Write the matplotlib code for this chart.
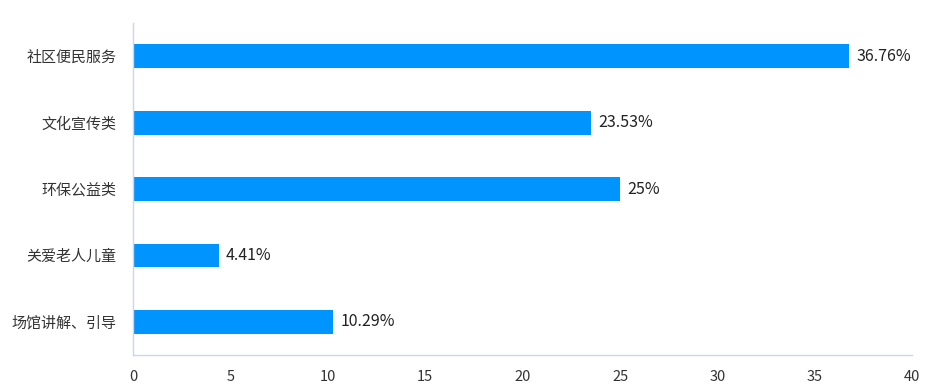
import matplotlib
matplotlib.use("Agg")
import matplotlib.pyplot as plt

categories = ['社区便民服务', '文化宣传类', '环保公益类', '关爱老人儿童', '场馆讲解、引导']
values = [36.76, 23.53, 25, 4.41, 10.29]
value_labels = ['36.76%', '23.53%', '25%', '4.41%', '10.29%']

plt.rcParams['font.family'] = ['Noto Sans CJK SC', 'DejaVu Sans']

fig = plt.figure(figsize=(9.3, 3.92), dpi=100)
ax = fig.add_axes([0.143, 0.094, 0.838, 0.847])

ypos = list(range(len(categories)))
bars = ax.barh(ypos, values, height=0.36, color='#0094ff')
for b, lab in zip(bars, value_labels):
    ax.text(b.get_width() + 0.35, b.get_y() + b.get_height() / 2, lab,
            va='center', ha='left', fontsize=11.5, color='#222222')

ax.set_yticks(ypos)
ax.set_yticklabels(categories, fontsize=10.8, color='#333333')
ax.set_ylim(len(categories) - 0.5, -0.5)
ax.set_xlim(0, 40)
ax.set_xticks(range(0, 41, 5))
ax.tick_params(axis='x', length=0, pad=11, labelsize=10.5, labelcolor='#333333')
ax.tick_params(axis='y', length=0, pad=12)

for s in ['top', 'right']:
    ax.spines[s].set_visible(False)
for s in ['left', 'bottom']:
    ax.spines[s].set_color('#ccd6eb')
    ax.spines[s].set_linewidth(1)

fig.savefig('out.png', dpi=100)
